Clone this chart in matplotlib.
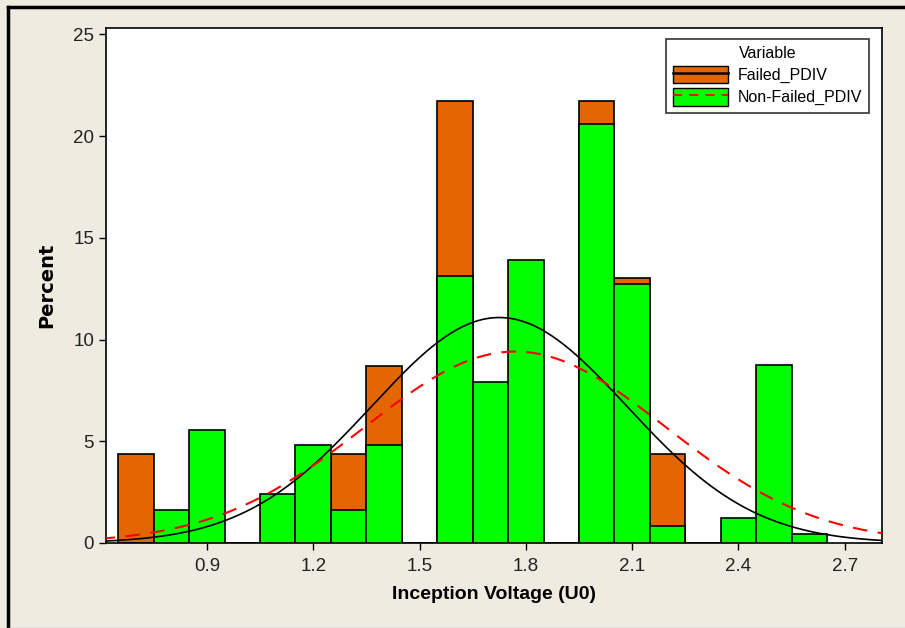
import matplotlib
matplotlib.use("Agg")
import matplotlib.pyplot as plt
import numpy as np
from matplotlib.patches import Patch
from matplotlib.lines import Line2D

# bin centres (width 0.1) and percents
bins = [0.7, 0.8, 0.9, 1.0, 1.1, 1.2, 1.3, 1.4, 1.5, 1.6, 1.7, 1.8, 1.9,
        2.0, 2.1, 2.2, 2.3, 2.4, 2.5, 2.6]
failed = [4.35, 0, 0, 0, 0, 0, 4.35, 8.7, 0, 21.74, 0, 0, 0,
          21.74, 13.04, 4.35, 0, 0, 0, 0]
non_failed = [0, 1.64, 5.53, 0, 2.43, 4.84, 1.64, 4.84, 0, 13.11, 7.92, 13.92, 0,
              20.6, 12.72, 0.83, 0, 1.24, 8.73, 0.43]

# fitted normal curves (mean, stdev)
fit_failed = (1.725, 0.360)
fit_non_failed = (1.77, 0.424)

xticks = [0.9, 1.2, 1.5, 1.8, 2.1, 2.4, 2.7]
yticks = [0, 5, 10, 15, 20, 25]

orange = "#E36600"
green = "#00FF00"
bg = "#EFEBE1"
plt.rcParams['font.family'] = ['Liberation Sans', 'DejaVu Sans']

fig = plt.figure(figsize=(9.05, 6.28), dpi=100, facecolor=bg)
ax = fig.add_axes([0.117, 0.1354, 0.8576, 0.8196])
ax.set_facecolor("white")

ax.bar(bins, failed, width=0.1, color=orange, edgecolor="black", linewidth=1.2, zorder=2)
ax.bar(bins, non_failed, width=0.1, color=green, edgecolor="black", linewidth=1.2, zorder=3)

xs = np.linspace(0.6, 2.85, 400)
def normal_pct(x, m, s):
    return 100 * 0.1 / (s * np.sqrt(2 * np.pi)) * np.exp(-0.5 * ((x - m) / s) ** 2)

ax.plot(xs, normal_pct(xs, *fit_failed), color="black", lw=1.2, zorder=4)
ax.plot(xs, normal_pct(xs, *fit_non_failed), color="red", lw=1.5, ls=(0, (7, 5)), zorder=4)

ax.set_xlim(0.615, 2.805)
ax.set_ylim(0, 25.3)
ax.set_xticks(xticks)
ax.set_xticklabels([f"{t:.1f}" for t in xticks])
ax.set_yticks(yticks)
ax.tick_params(axis="both", direction="out", length=5, width=1, labelsize=13.5,
               colors="black", labelcolor="#222222")
ax.tick_params(axis="x", pad=6)
for s in ax.spines.values():
    s.set_linewidth(1.2)
    s.set_color("black")

ax.set_xlabel("Inception Voltage (U0)", fontsize=14, fontweight="bold", labelpad=8)
ax.set_ylabel("Percent", fontsize=14, fontweight="bold", labelpad=12, family="DejaVu Sans")

handles = [(Patch(facecolor=orange, edgecolor="black"), Line2D([], [], color="black", lw=1.8)),
           (Patch(facecolor=green, edgecolor="black"), Line2D([], [], color="red", lw=1.3, ls=(0, (5, 4))))]
leg = ax.legend(handles, ["Failed_PDIV", "Non-Failed_PDIV"], title="Variable",
                loc="upper right", bbox_to_anchor=(0.983, 0.979), borderaxespad=0,
                fontsize=11.5, title_fontsize=11.5, frameon=True, fancybox=False,
                edgecolor="black", handlelength=3.4, handleheight=1.3, borderpad=0.45,
                labelspacing=0.3, handletextpad=0.6)
leg.get_frame().set_linewidth(1.2)

# outer frame lines
fig.add_artist(Line2D([8 / 905, 1], [1 - 7 / 628, 1 - 7 / 628], color="black", lw=2.5,
                      transform=fig.transFigure))
fig.add_artist(Line2D([8 / 905, 8 / 905], [0, 1 - 7 / 628], color="black", lw=2.5,
                      transform=fig.transFigure))
fig.add_artist(Line2D([8 / 905, 1], [0.5 / 628, 0.5 / 628], color="#BBBBBB", lw=1,
                      transform=fig.transFigure))

fig.savefig("out.png", dpi=100, facecolor=bg)
